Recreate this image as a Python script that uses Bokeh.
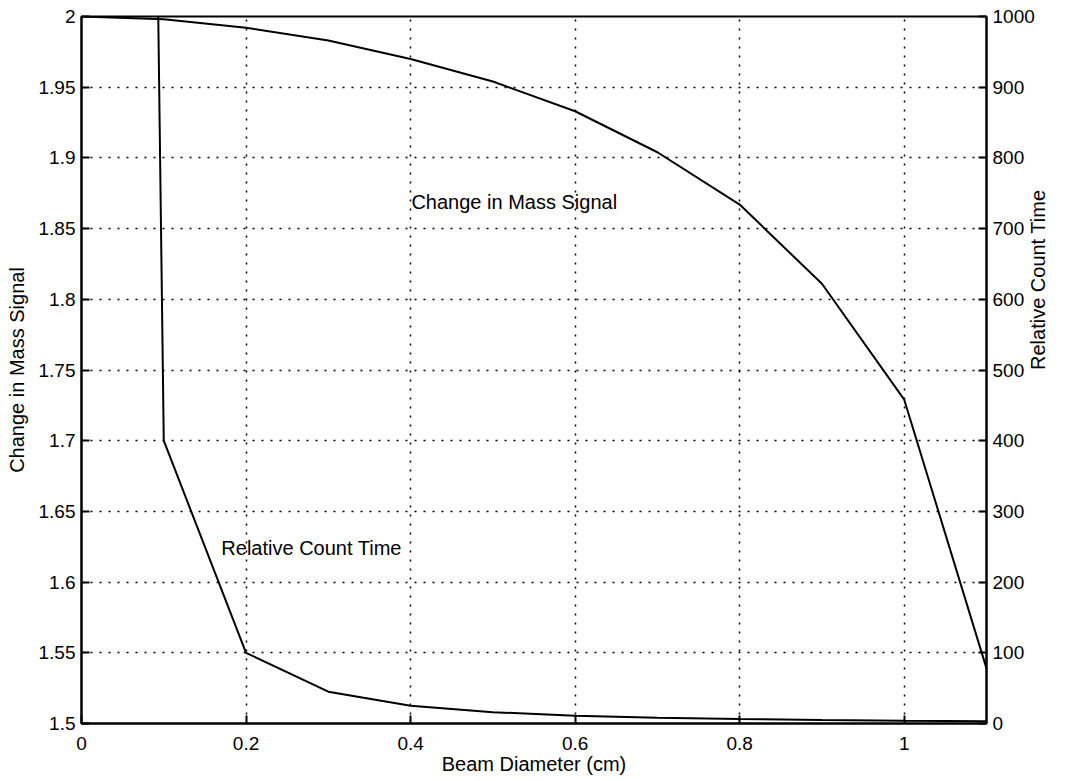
import math
from bokeh.plotting import figure
from bokeh.models import Range1d, LinearAxis, FixedTicker, CustomJSTickFormatter, Label
from bokeh.embed import file_html
from bokeh.resources import INLINE

# ---- data ----
mass_x = [0.0, 0.1, 0.2, 0.3, 0.4, 0.5, 0.6, 0.7, 0.8, 0.9, 1.0, 1.1]
mass_y = [2.0, 1.998, 1.992, 1.983, 1.970, 1.954, 1.933, 1.904, 1.867, 1.811, 1.729, 1.539]

count_x = [0.0933, 0.1, 0.2, 0.3, 0.4, 0.5, 0.6, 0.7, 0.8, 0.9, 1.0, 1.1]
count_y = [1000, 400, 100, 45, 25, 16, 11, 8, 6.3, 4.9, 4, 3.3]

x_ticks = [0, 0.2, 0.4, 0.6, 0.8, 1.0]
left_ticks = [1.5, 1.55, 1.6, 1.65, 1.7, 1.75, 1.8, 1.85, 1.9, 1.95, 2.0]
right_ticks = [0, 100, 200, 300, 400, 500, 600, 700, 800, 900, 1000]

FONT = "Liberation Sans"
TICK_SIZE = "19px"
LABEL_SIZE = "20px"

p = figure(width=1066, height=781, output_backend="svg", toolbar_location=None,
           x_range=Range1d(0, 1.1), y_range=Range1d(1.5, 2.0),
           min_border_left=81, min_border_right=80, min_border_top=16, min_border_bottom=58)
p.extra_y_ranges = {"count": Range1d(0, 1000)}

p.background_fill_color = "white"
p.border_fill_color = "white"
p.outline_line_color = "black"
p.outline_line_width = 2
p.outline_line_alpha = 1

fmt = CustomJSTickFormatter(code="return String(Math.round(tick*100)/100);")

def style_axis(ax):
    ax.axis_line_color = "black"
    ax.axis_line_width = 2
    ax.major_tick_in = 8
    ax.major_tick_out = 0
    ax.major_tick_line_width = 2
    ax.major_tick_line_color = "black"
    ax.minor_tick_line_color = None
    ax.major_label_text_font = FONT
    ax.major_label_text_font_size = TICK_SIZE
    ax.major_label_text_color = "black"
    ax.axis_label_text_font = FONT
    ax.axis_label_text_font_size = LABEL_SIZE
    ax.axis_label_text_font_style = "normal"
    ax.axis_label_text_color = "black"

xa = p.xaxis[0]
xa.ticker = FixedTicker(ticks=x_ticks)
xa.formatter = fmt
xa.axis_label = "Beam Diameter (cm)"
style_axis(xa)
xa.major_label_standoff = 13
xa.axis_label_standoff = 0

ya = p.yaxis[0]
ya.ticker = FixedTicker(ticks=left_ticks)
ya.formatter = fmt
ya.axis_label = "Change in Mass Signal"
style_axis(ya)
ya.major_label_standoff = 6
ya.axis_label_standoff = 8

ra = LinearAxis(y_range_name="count", ticker=FixedTicker(ticks=right_ticks),
                formatter=fmt, axis_label="Relative Count Time")
style_axis(ra)
ra.major_label_standoff = 6
ra.axis_label_standoff = 0
ra.axis_label_orientation = math.pi / 2
ra.axis_label_text_baseline = "top"
p.add_layout(ra, "right")

p.xgrid.ticker = FixedTicker(ticks=x_ticks)
p.ygrid.ticker = FixedTicker(ticks=left_ticks)
for g in (p.xgrid[0], p.ygrid[0]):
    g.grid_line_color = "black"
    g.grid_line_width = 1.5
    g.grid_line_dash = "2 7"
    g.grid_line_alpha = 1

p.line(mass_x, mass_y, line_color="black", line_width=2)
p.line(count_x, count_y, line_color="black", line_width=2, y_range_name="count")

p.add_layout(Label(x=0.401, y=1.869, text="Change in Mass Signal", text_font=FONT,
                   text_font_size=LABEL_SIZE, text_baseline="middle", text_align="left",
                   text_color="black"))
p.add_layout(Label(x=0.170, y=1.624, text="Relative Count Time", text_font=FONT,
                   text_font_size=LABEL_SIZE, text_baseline="middle", text_align="left",
                   text_color="black"))

open("out.html", "w").write(file_html(p, INLINE))
